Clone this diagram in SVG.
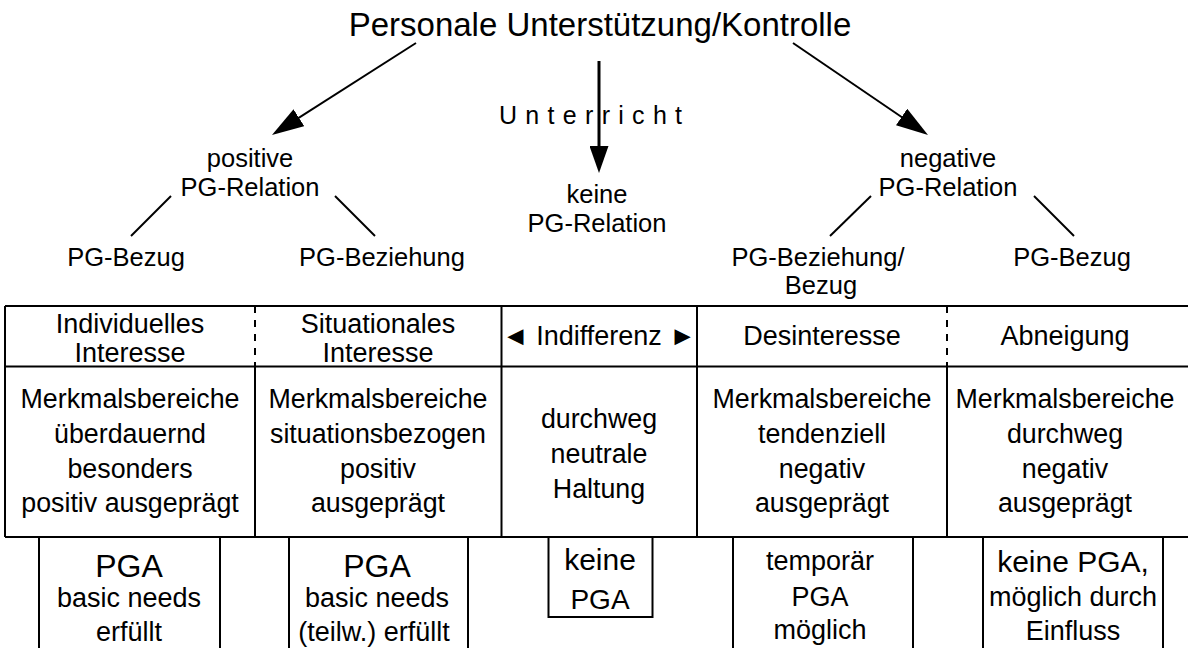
<svg xmlns="http://www.w3.org/2000/svg" width="1188" height="648" viewBox="0 0 1188 648">
<style>
text{font-family:"Liberation Sans",Arial,sans-serif;fill:#000;text-anchor:middle}
.t{font-size:33px}
.n{font-size:25.5px}
.h{font-size:27px}
.m{font-size:26.8px}
.b{font-size:27px}
.big{font-size:32px}
.ln{stroke:#000;stroke-width:2;fill:none}
.dash{stroke:#000;stroke-width:2;stroke-dasharray:7,7;fill:none}
</style>
<defs>
<marker id="ah" viewBox="0 0 32 20" refX="24" refY="10" markerWidth="32" markerHeight="20" markerUnits="userSpaceOnUse" orient="auto">
<path d="M0,0 L32,10 L0,20 Z" fill="#000"/>
</marker>
<marker id="ah2" viewBox="0 0 27 19" refX="19" refY="9.5" markerWidth="27" markerHeight="19" markerUnits="userSpaceOnUse" orient="auto">
<path d="M0,0 L27,9.5 L0,19 Z" fill="#000"/>
</marker>
</defs>
<rect width="1188" height="648" fill="#fff"/>

<g id="connectors">
<line class="ln" x1="416" y1="43" x2="278.7" y2="130.7" marker-end="url(#ah)"/>
<line class="ln" x1="793" y1="43" x2="921.4" y2="130.5" marker-end="url(#ah)"/>
<line x1="599" y1="61" x2="599" y2="165" stroke="#000" stroke-width="3" marker-end="url(#ah2)"/>
<line class="ln" x1="171" y1="196" x2="131" y2="236"/>
<line class="ln" x1="335" y1="196" x2="375" y2="236"/>
<line class="ln" x1="871" y1="196" x2="830" y2="236"/>
<line class="ln" x1="1034" y1="196" x2="1074" y2="236"/>
</g>

<g id="title"><text class="t" x="600" y="36">Personale Unterstützung/Kontrolle</text></g>
<g id="unterricht"><text class="n" x="499" y="124" style="text-anchor:start;letter-spacing:8.3px;font-size:25px">Unterricht</text></g>

<g id="pos"><text class="n" x="250" y="167">positive</text><text class="n" x="250" y="196">PG-Relation</text></g>
<g id="keine"><text class="n" x="597" y="203">keine</text><text class="n" x="597" y="232">PG-Relation</text></g>
<g id="neg"><text class="n" x="948" y="167">negative</text><text class="n" x="948" y="196">PG-Relation</text></g>
<g id="pos-bezug"><text class="n" x="126" y="266">PG-Bezug</text></g>
<g id="pos-beziehung"><text class="n" x="382" y="266">PG-Beziehung</text></g>
<g id="neg-beziehung"><text class="n" x="818" y="266">PG-Beziehung/</text><text class="n" x="821" y="294">Bezug</text></g>
<g id="neg-bezug"><text class="n" x="1072" y="266">PG-Bezug</text></g>

<g id="table">
<line class="ln" x1="5" y1="306" x2="1188" y2="306"/>
<line class="ln" x1="5" y1="366.5" x2="1188" y2="366.5"/>
<line class="ln" x1="5" y1="537" x2="1188" y2="537"/>
<line class="ln" x1="5" y1="306" x2="5" y2="537"/>
<line class="dash" x1="255" y1="306" x2="255" y2="366"/>
<line class="ln" x1="255" y1="366" x2="255" y2="537"/>
<line class="ln" x1="501.5" y1="306" x2="501.5" y2="537"/>
<line class="ln" x1="697" y1="306" x2="697" y2="537"/>
<line class="dash" x1="947" y1="306" x2="947" y2="366"/>
<line class="ln" x1="947" y1="366" x2="947" y2="537"/>
</g>

<g id="col1">
<text class="h" x="130" y="333">Individuelles</text><text class="h" x="130" y="362">Interesse</text>
<text class="m" x="130" y="408">Merkmalsbereiche</text><text class="m" x="130" y="443">überdauernd</text><text class="m" x="130" y="478">besonders</text><text class="m" x="130" y="512">positiv ausgeprägt</text>
</g>
<g id="col2">
<text class="h" x="378" y="333">Situationales</text><text class="h" x="378" y="362">Interesse</text>
<text class="m" x="378" y="408">Merkmalsbereiche</text><text class="m" x="378" y="443">situationsbezogen</text><text class="m" x="378" y="478">positiv</text><text class="m" x="378" y="512">ausgeprägt</text>
</g>
<g id="col3">
<text class="h" x="599" y="345">◄ Indifferenz ►</text>
<text class="m" x="599" y="428">durchweg</text><text class="m" x="599" y="463">neutrale</text><text class="m" x="599" y="498">Haltung</text>
</g>
<g id="col4">
<text class="h" x="822" y="345">Desinteresse</text>
<text class="m" x="822" y="408">Merkmalsbereiche</text><text class="m" x="822" y="443">tendenziell</text><text class="m" x="822" y="478">negativ</text><text class="m" x="822" y="512">ausgeprägt</text>
</g>
<g id="col5">
<text class="h" x="1065" y="345">Abneigung</text>
<text class="m" x="1065" y="408">Merkmalsbereiche</text><text class="m" x="1065" y="443">durchweg</text><text class="m" x="1065" y="478">negativ</text><text class="m" x="1065" y="512">ausgeprägt</text>
</g>

<g id="pga1">
<line class="ln" x1="39" y1="537" x2="39" y2="648"/><line class="ln" x1="220" y1="537" x2="220" y2="648"/>
<text class="big" x="129" y="577">PGA</text><text class="b" x="129" y="607">basic needs</text><text class="b" x="129" y="641">erfüllt</text>
</g>
<g id="pga2">
<line class="ln" x1="289" y1="537" x2="289" y2="648"/><line class="ln" x1="468" y1="537" x2="468" y2="648"/>
<text class="big" x="377" y="577">PGA</text><text class="b" x="377" y="607">basic needs</text><text class="b" x="374" y="641">(teilw.) erfüllt</text>
</g>
<g id="pga3">
<rect class="ln" x="548.5" y="537" width="104" height="80"/>
<text x="600" y="570" style="font-size:30px">keine</text><text x="600" y="609" style="font-size:28px">PGA</text>
</g>
<g id="pga4">
<line class="ln" x1="733" y1="537" x2="733" y2="648"/><line class="ln" x1="913" y1="537" x2="913" y2="648"/>
<text class="b" x="820" y="570">temporär</text><text class="b" x="820" y="606">PGA</text><text class="b" x="820" y="639">möglich</text>
</g>
<g id="pga5">
<line class="ln" x1="983" y1="537" x2="983" y2="648"/><line class="ln" x1="1163" y1="537" x2="1163" y2="648"/>
<text x="1073" y="572" style="font-size:30px">keine PGA,</text><text class="b" x="1073" y="606">möglich durch</text><text class="b" x="1073" y="640">Einfluss</text>
</g>
</svg>
